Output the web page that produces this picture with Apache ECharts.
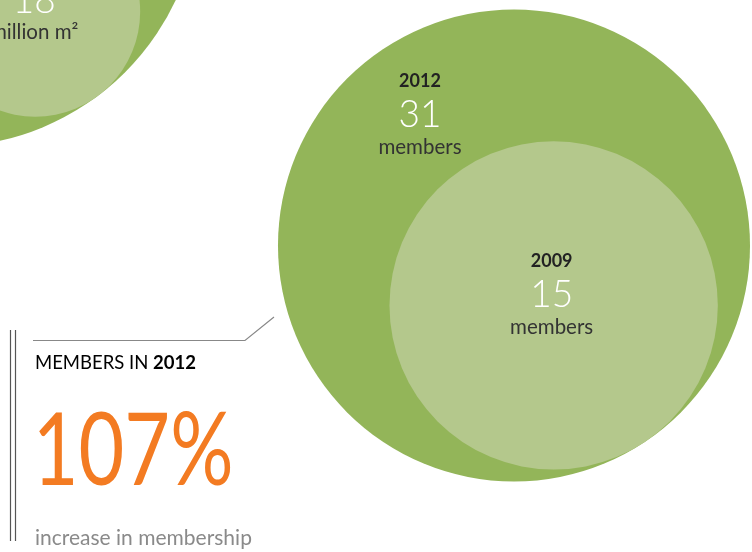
<!DOCTYPE html>
<html>
<head>
<meta charset="utf-8">
<script src="https://cdn.jsdelivr.net/npm/echarts@6/dist/echarts.min.js"></script>
<style>html,body{margin:0;padding:0;background:#fff}#c{width:752px;height:552px}</style>
</head>
<body>
<div id="c"></div>
<script>
// ---- data ----
const memberYears = ['2009', '2012'];
const memberValues = [15, 31];
const memberUnit = 'members';
const areaValues = [18, 106];          // inner shown value, outer estimated (label off-canvas)
const areaUnit = 'million m²';
const increaseLabel = 'increase in membership';

// ---- layout ----
const W = 752, H = 552;
const memberScale = 42.39;   // px radius per sqrt(unit)
const areaScale = 24.75;
const memberOuterCenter = [514, 245.5];
const memberAngle = 56.5;
const areaOuterCenter = [-55, -108];
const areaAngle = 53;
const FONT = 'Lato, "Noto Sans", sans-serif';
const DARK = '#93B559', LIGHT = '#B4C88C';

function innerCenter(outerC, Rout, rin, ang) {
  const d = Rout - rin, a = ang * Math.PI / 180;
  return [outerC[0] + d * Math.cos(a), outerC[1] + d * Math.sin(a)];
}
const rich = {
  yr: {fontFamily: FONT, fontSize: 18, fontWeight: 'bold', color: '#222', lineHeight: 30},
  num: {fontFamily: FONT, fontSize: 37, fontWeight: 300, color: '#fff', lineHeight: 38},
  unit: {fontFamily: FONT, fontSize: 20.5, color: '#333', lineHeight: 26}
};

const mR = memberScale * Math.sqrt(memberValues[1]);
const mr = memberScale * Math.sqrt(memberValues[0]);
const mInner = innerCenter(memberOuterCenter, mR, mr, memberAngle);
const aR = areaScale * Math.sqrt(areaValues[1]);
const ar = areaScale * Math.sqrt(areaValues[0]);
const aInner = innerCenter(areaOuterCenter, aR, ar, areaAngle);

const pct = Math.round((memberValues[1] - memberValues[0]) / memberValues[0] * 100) + '%';

const chart = echarts.init(document.getElementById('c'), null, {renderer: 'canvas'});
chart.setOption({
  animation: false,
  grid: {left: 0, right: 0, top: 0, bottom: 0},
  xAxis: {type: 'value', min: 0, max: W, show: false},
  yAxis: {type: 'value', min: 0, max: H, inverse: true, show: false},
  series: [
    {
      type: 'scatter', clip: false, silent: true,
      itemStyle: {opacity: 1},
      symbolSize: v => 2 * areaScale * Math.sqrt(v[2]),
      data: [
        {value: [areaOuterCenter[0], areaOuterCenter[1], areaValues[1]], itemStyle: {color: DARK, opacity: 1}},
        {value: [aInner[0], aInner[1], areaValues[0]], itemStyle: {color: LIGHT, opacity: 1},
         label: {show: true, position: 'inside', offset: [-1, 2], align: 'center',
           formatter: '{num|' + areaValues[0] + '}\n{unit|' + areaUnit + '}', rich: rich}}
      ]
    },
    {
      type: 'scatter', clip: false, silent: true,
      itemStyle: {opacity: 1},
      symbolSize: v => 2 * memberScale * Math.sqrt(v[2]),
      data: [
        {value: [memberOuterCenter[0], memberOuterCenter[1], memberValues[1]], itemStyle: {color: DARK, opacity: 1},
         label: {show: true, position: 'inside', offset: [-94, -132], align: 'center',
           formatter: '{yr|' + memberYears[1] + '}\n{num|' + memberValues[1] + '}\n{unit|' + memberUnit + '}', rich: rich}},
        {value: [mInner[0], mInner[1], memberValues[0]], itemStyle: {color: LIGHT, opacity: 1},
         label: {show: true, position: 'inside', offset: [-2, -12.5], align: 'center',
           formatter: '{yr|' + memberYears[0] + '}\n{num|' + memberValues[0] + '}\n{unit|' + memberUnit + '}', rich: rich}}
      ]
    }
  ],
  graphic: [
    {type: 'line', shape: {x1: 10.5, y1: 330, x2: 10.5, y2: 541}, style: {stroke: '#555', lineWidth: 1.2}},
    {type: 'line', shape: {x1: 15.5, y1: 330, x2: 15.5, y2: 541}, style: {stroke: '#555', lineWidth: 1.2}},
    {type: 'polyline', shape: {points: [[33, 340.5], [245, 340.5], [274, 317]]}, style: {stroke: '#888', lineWidth: 1.2, fill: null}},
    {type: 'text', x: 35, y: 363, style: {text: '{a|MEMBERS IN }{b|' + memberYears[1] + '}', verticalAlign: 'middle',
      rich: {a: {fontFamily: FONT, fontSize: 18.5, color: '#333'}, b: {fontFamily: FONT, fontSize: 18.5, fontWeight: 'bold', color: '#222'}}}},
    {type: 'text', x: 27, y: 453, scaleX: 0.79, originX: 27, originY: 453,
      style: {text: pct, font: '100px ' + FONT, fill: '#F37B22', verticalAlign: 'middle'}},
    {type: 'text', x: 35, y: 538, style: {text: increaseLabel, font: '21px ' + FONT, fill: '#8a8a8a', verticalAlign: 'middle'}}
  ]
});
</script>
</body>
</html>
